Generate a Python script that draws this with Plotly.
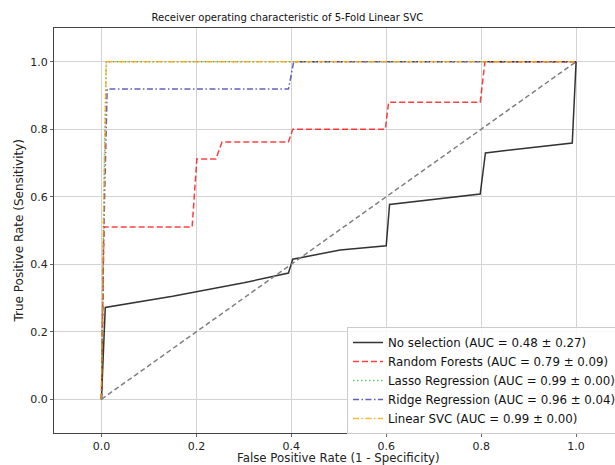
import plotly.graph_objects as go

# ROC curve data (FPR, TPR)
no_sel_fpr = [0.0, 0.008, 0.15, 0.30, 0.394, 0.403, 0.503, 0.60, 0.607, 0.798, 0.809, 0.992, 1.0]
no_sel_tpr = [0.0, 0.272, 0.305, 0.345, 0.374, 0.415, 0.442, 0.455, 0.577, 0.608, 0.730, 0.759, 1.0]

rf_fpr = [0.0, 0.005, 0.191, 0.201, 0.241, 0.254, 0.394, 0.403, 0.598, 0.605, 0.798, 0.808, 1.0]
rf_tpr = [0.0, 0.51, 0.51, 0.712, 0.712, 0.762, 0.762, 0.80, 0.80, 0.88, 0.88, 1.0, 1.0]

lasso_fpr = [0.0, 0.005, 0.01, 1.0]
lasso_tpr = [0.0, 0.60, 1.0, 1.0]

ridge_fpr = [0.0, 0.005, 0.012, 0.394, 0.405, 1.0]
ridge_tpr = [0.0, 0.50, 0.919, 0.919, 1.0, 1.0]

svc_fpr = [0.0, 0.005, 0.01, 1.0]
svc_tpr = [0.0, 0.60, 1.0, 1.0]

diag = [0.0, 1.0]

labels = [
    "No selection (AUC = 0.48 ± 0.27)",
    "Random Forests (AUC = 0.79 ± 0.09)",
    "Lasso Regression (AUC = 0.99 ± 0.00)",
    "Ridge Regression (AUC = 0.96 ± 0.04)",
    "Linear SVC (AUC = 0.99 ± 0.00)",
]
tick_vals = [0.0, 0.2, 0.4, 0.6, 0.8, 1.0]
tick_text = ["0.0", "0.2", "0.4", "0.6", "0.8", "1.0"]

FONT = "DejaVu Sans"
W, H = 615, 465
L, T, B = 54, 28, 465 - 433

fig = go.Figure()
fig.add_trace(go.Scatter(x=no_sel_fpr, y=no_sel_tpr, mode="lines", name=labels[0],
                         line=dict(color="rgba(0,0,0,0.8)", width=1.5)))
fig.add_trace(go.Scatter(x=rf_fpr, y=rf_tpr, mode="lines", name=labels[1],
                         line=dict(color="rgba(255,0,0,0.75)", width=1.5, dash="6px,3px")))
fig.add_trace(go.Scatter(x=lasso_fpr, y=lasso_tpr, mode="lines", name=labels[2],
                         line=dict(color="rgba(0,150,0,0.6)", width=1.5, dash="1.5px,2.5px")))
fig.add_trace(go.Scatter(x=ridge_fpr, y=ridge_tpr, mode="lines", name=labels[3],
                         line=dict(color="rgba(0,0,150,0.62)", width=1.5, dash="6px,2.5px,1.5px,2.5px")))
fig.add_trace(go.Scatter(x=svc_fpr, y=svc_tpr, mode="lines", name=labels[4],
                         line=dict(color="rgba(255,165,0,0.8)", width=1.5, dash="6px,2.5px,1.5px,2.5px")))
fig.add_trace(go.Scatter(x=diag, y=diag, mode="lines", showlegend=False, hoverinfo="skip",
                         line=dict(color="rgba(128,128,128,1)", width=1.5, dash="5px,3px")))

axis_common = dict(
    automargin=False,
    showgrid=True, gridcolor="#d3d3d3", gridwidth=1,
    zeroline=False, showline=True, linecolor="#444", linewidth=1, mirror=True,
    ticks="outside", ticklen=3, tickcolor="#666", tickwidth=1,
    tickfont=dict(family=FONT, size=11, color="#222"),
    tickvals=tick_vals, ticktext=tick_text,
)

plot_w = W - L
plot_h = H - T - B

fig.update_layout(
    width=W, height=H,
    margin=dict(l=L, r=0, t=T, b=B, autoexpand=False),
    paper_bgcolor="white", plot_bgcolor="white",
    font=dict(family=FONT, size=12, color="#222"),
    title=dict(text="Receiver operating characteristic of 5-Fold Linear SVC",
               x=287.5 / W, xref="container", xanchor="center",
               y=1 - 17 / H, yref="container", yanchor="middle",
               font=dict(family="DejaVu Sans Condensed, DejaVu Sans", size=11.2, color="#111")),
    xaxis=dict(range=[-0.1, 1.082], **axis_common),
    yaxis=dict(range=[-0.1, 1.1], **axis_common),
    legend=dict(x=347 / W, y=1 - 327 / H, xref="container", yref="container",
                xanchor="left", yanchor="top",
                bgcolor="rgba(255,255,255,0.85)", bordercolor="#ccc", borderwidth=1,
                font=dict(family=FONT, size=11.8, color="#111"),
                tracegroupgap=0, itemwidth=30),
    showlegend=True,
    annotations=[
        dict(text="False Positive Rate (1 - Specificity)", xref="paper", yref="paper",
             x=(338 - L) / plot_w, y=-(457.5 - 433) / plot_h,
             xanchor="center", yanchor="middle", showarrow=False, borderpad=0,
             font=dict(family=FONT, size=11.8, color="#222")),
        dict(text="True Positive Rate (Sensitivity)", xref="paper", yref="paper",
             x=-(L - 18) / plot_w, y=0.5, textangle=-90,
             xanchor="center", yanchor="middle", showarrow=False, borderpad=0,
             font=dict(family=FONT, size=12, color="#222")),
    ],
)

fig.write_html(
    "out.html",
    config={"displayModeBar": False},
    post_script="document.body.style.margin='0';document.body.style.overflow='hidden';",
)
